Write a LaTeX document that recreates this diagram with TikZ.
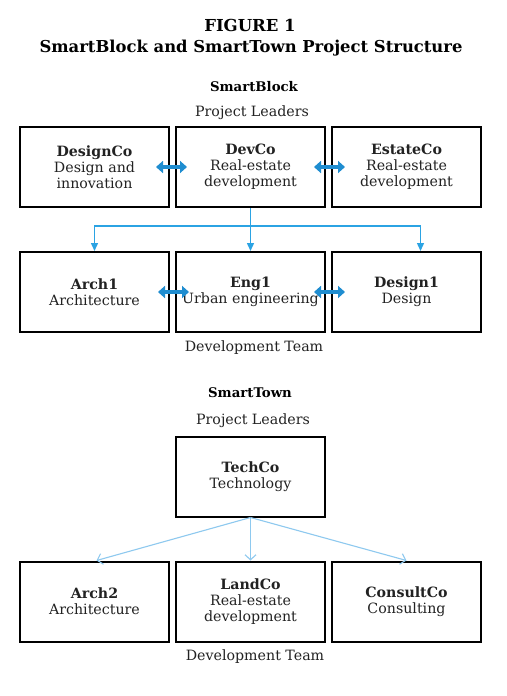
\documentclass[tikz,border=0pt]{standalone}
\usepackage{fontspec}
\setmainfont{DejaVu Serif}
\usetikzlibrary{arrows.meta}
\definecolor{dblue}{HTML}{1F8DD0}
\definecolor{tblue}{HTML}{2BA3E3}
\definecolor{lblue}{HTML}{8EC9EF}
\definecolor{txt}{HTML}{222222}
\tikzset{
  box/.style={draw=black,line width=2pt,minimum width=149pt,minimum height=80pt,
    align=center,inner sep=0pt,text=txt,font=\fontsize{14.2}{15.8}\selectfont},
  lab/.style={text=txt,font=\fontsize{14.2}{16}\selectfont,inner sep=0pt},
  head/.style={text=black,font=\fontsize{13.3}{16}\selectfont\bfseries,inner sep=0pt},
  dbl/.style={draw=dblue,line width=4pt,{Triangle[width=12pt,length=7pt]}-{Triangle[width=12pt,length=7pt]}},
  tree/.style={draw=tblue,line width=1.4pt},
  treearr/.style={tree,-{Triangle[width=7pt,length=8pt]}},
  thin/.style={draw=lblue,line width=1.1pt,-{Straight Barb[width=11pt,length=5pt]}}
}
\begin{document}
\begin{tikzpicture}[x=1pt,y=-1pt]
\useasboundingbox[fill=white] (0,0) rectangle (506,696);
\node[font=\fontsize{16.5}{20}\selectfont\bfseries] (fig) at (250,25) {FIGURE 1};
\node[font=\fontsize{16.4}{20}\selectfont\bfseries] (title) at (251,48) {SmartBlock and SmartTown Project Structure};
% SmartBlock
\node[head] (sb) at (254,87) {SmartBlock};
\node[lab] (pl1) at (252,113) {Project Leaders};
\node[box] (designco) at (94.5,167) {\textbf{DesignCo}\\Design and\\innovation};
\node[box] (devco) at (250.5,167) {\textbf{DevCo}\\Real-estate\\development};
\node[box] (estateco) at (406.5,167) {\textbf{EstateCo}\\Real-estate\\development};
\node[box] (arch1) at (94.5,292) {\textbf{Arch1}\\Architecture};
\node[box] (eng1) at (250.5,292) {\textbf{Eng1}\\Urban engineering};
\node[box] (design1) at (406.5,292) {\textbf{Design1}\\Design};
\node[lab] (dt1) at (254,348) {Development Team};
\draw[dbl] ([xshift=-14pt]designco.east) -- ([xshift=12pt]devco.west);
\draw[dbl] ([xshift=-12pt]devco.east) -- ([xshift=14pt]estateco.west);
\draw[dbl] ([xshift=-12pt]arch1.east) -- ([xshift=14pt]eng1.west);
\draw[dbl] ([xshift=-12pt]eng1.east) -- ([xshift=14pt]design1.west);
\coordinate (j) at ([yshift=-18pt]devco.south);
\draw[treearr] (devco.south) -- (eng1.north);
\draw[treearr] (j) -| (arch1.north);
\draw[treearr] (j) -| ([xshift=14pt]design1.north);
% SmartTown
\node[head] (st) at (250,393) {SmartTown};
\node[lab] (pl2) at (253,421) {Project Leaders};
\node[box] (techco) at (250.5,476.5) {\textbf{TechCo}\\Technology};
\node[box] (arch2) at (94.5,601.5) {\textbf{Arch2}\\Architecture};
\node[box] (landco) at (250.5,601.5) {\textbf{LandCo}\\Real-estate\\development};
\node[box] (consultco) at (406.5,601.5) {\textbf{ConsultCo}\\Consulting};
\node[lab] (dt2) at (255,657) {Development Team};
\draw[thin] (techco.south) -- ([xshift=2pt]arch2.north);
\draw[thin] (techco.south) -- (landco.north);
\draw[thin] (techco.south) -- (consultco.north);
\end{tikzpicture}
\end{document}
